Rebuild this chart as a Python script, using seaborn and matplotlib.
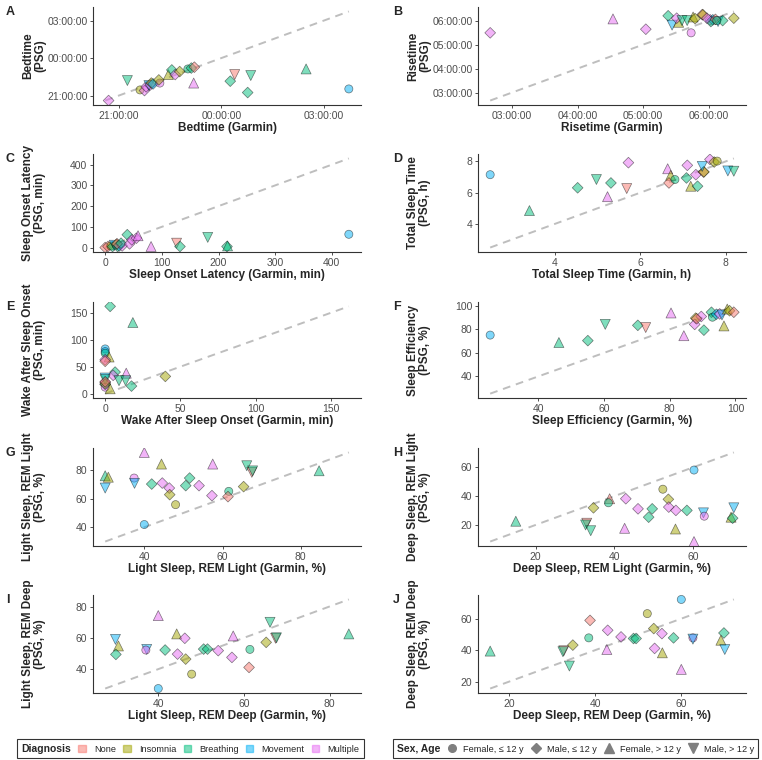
import numpy as np
import pandas as pd
import matplotlib
matplotlib.use('Agg')
import matplotlib.pyplot as plt
import seaborn as sns
from matplotlib.ticker import MultipleLocator, FuncFormatter
from matplotlib.patches import Patch
from matplotlib.lines import Line2D

sns.set_style('white')
plt.rcParams['font.family'] = ['Liberation Sans', 'DejaVu Sans']

# dx codes: N None, I Insomnia, B Breathing, V Movement, M Multiple
# sa codes: c Female <=12, d Male <=12, u Female >12, w Male >12

# A - bedtime (hours, past midnight as 24+)
a_x = [20.70, 21.25, 21.62, 21.75, 21.80, 21.88, 21.92, 21.95, 22.00, 22.20, 22.17, 22.45, 22.55, 22.65, 22.78, 23.02, 23.12, 23.21, 23.19, 24.26, 24.39, 24.77, 24.86, 26.48, 27.73]
a_y = [20.60, 22.20, 21.45, 21.40, 21.70, 21.80, 21.85, 22.00, 21.93, 22.00, 22.25, 22.68, 23.05, 22.68, 22.92, 23.13, 23.20, 23.27, 22.00, 22.15, 22.68, 21.24, 22.60, 23.13, 21.53]
a_dx = ['M', 'B', 'I', 'M', 'M', 'V', 'M', 'I', 'V', 'M', 'I', 'I', 'B', 'M', 'I', 'B', 'B', 'N', 'M', 'B', 'N', 'B', 'B', 'B', 'V']
a_sa = ['d', 'w', 'c', 'd', 'd', 'w', 'd', 'd', 'd', 'c', 'd', 'u', 'd', 'd', 'd', 'c', 'd', 'd', 'u', 'd', 'w', 'd', 'w', 'u', 'c']

# B - risetime (hours)
b_x = [2.67, 4.54, 5.04, 5.73, 5.38, 5.44, 5.54, 5.51, 5.59, 5.67, 5.76, 5.79, 5.90, 5.91, 6.02, 6.06, 6.03, 6.14, 6.21, 6.38, 5.97, 6.10, 6.12]
b_y = [5.49, 6.07, 5.64, 5.49, 6.20, 5.81, 5.93, 6.10, 6.00, 6.00, 6.15, 6.08, 6.25, 6.24, 6.03, 6.03, 5.96, 5.96, 6.00, 6.10, 6.10, 6.05, 6.00]
b_dx = ['M', 'M', 'M', 'M', 'B', 'V', 'I', 'M', 'B', 'B', 'I', 'I', 'N', 'I', 'M', 'V', 'B', 'V', 'B', 'I', 'M', 'N', 'B']
b_sa = ['d', 'u', 'd', 'c', 'd', 'w', 'u', 'd', 'w', 'w', 'u', 'd', 'd', 'd', 'd', 'd', 'd', 'w', 'd', 'd', 'd', 'd', 'c']

# C - sleep onset latency (min)
c_x = [0, 5, 10, 13, 16, 20, 22, 25, 30, 21, 28, 39, 43, 47, 55, 58, 81, 126, 132, 181, 215, 216, 430]
c_y = [0, 5, 8, 5, 11, 16, 5, 8, 8, 18, 21, 62, 18, 37, 45, 57, 5, 21, 5, 49, 5, 8, 64]
c_dx = ['N', 'N', 'I', 'B', 'V', 'I', 'B', 'V', 'M', 'N', 'B', 'B', 'M', 'M', 'M', 'M', 'M', 'N', 'B', 'B', 'B', 'B', 'V']
c_sa = ['d', 'd', 'c', 'd', 'w', 'd', 'd', 'd', 'd', 'd', 'd', 'd', 'd', 'd', 'd', 'u', 'u', 'w', 'd', 'w', 'd', 'u', 'c']

# D - total sleep time (h)
d_x = [2.48, 3.40, 4.53, 4.97, 5.31, 5.23, 5.68, 5.72, 6.64, 6.71, 6.67, 6.81, 7.08, 7.10, 7.18, 7.34, 7.30, 7.48, 7.49, 7.45, 7.63, 7.73, 7.80, 8.05, 8.19]
d_y = [7.15, 4.85, 6.31, 6.84, 6.62, 5.74, 6.26, 7.92, 7.53, 7.11, 6.62, 6.84, 6.94, 7.75, 6.41, 6.41, 7.15, 7.32, 7.33, 7.68, 8.13, 7.96, 8.02, 7.39, 7.37]
d_dx = ['V', 'B', 'B', 'B', 'B', 'M', 'N', 'M', 'M', 'I', 'N', 'B', 'B', 'M', 'I', 'B', 'M', 'N', 'I', 'V', 'M', 'I', 'I', 'V', 'B']
d_sa = ['c', 'u', 'd', 'w', 'd', 'u', 'w', 'd', 'u', 'u', 'd', 'c', 'd', 'd', 'u', 'd', 'd', 'd', 'd', 'w', 'd', 'd', 'c', 'w', 'w']

# E - wake after sleep onset (min)
e_x = [3.3, 18.4, 0, 0, 0, 2.6, 0, 0, 6.6, 5.3, 14, 9.2, 13.6, 17.5, 40, 0, 0, 0, 0, 3.3, 0, 0, 0]
e_y = [162, 132, 83, 78, 75, 68, 63, 60, 40, 34, 38, 24, 24, 14, 32, 29, 21, 17, 12, 9, 26, 18, 22]
e_dx = ['B', 'B', 'V', 'V', 'B', 'I', 'M', 'N', 'B', 'M', 'M', 'B', 'B', 'B', 'I', 'V', 'M', 'V', 'M', 'I', 'B', 'I', 'N']
e_sa = ['d', 'u', 'c', 'c', 'c', 'u', 'd', 'd', 'd', 'd', 'u', 'w', 'w', 'd', 'd', 'w', 'd', 'd', 'c', 'u', 'w', 'd', 'd']

# F - sleep efficiency (%)
f_x = [25.4, 46.3, 55.1, 60.4, 70.3, 72.7, 80.4, 84.3, 87.9, 87.6, 89.6, 90.4, 92.7, 93.0, 94.2, 95.2, 95.9, 96.5, 97.5, 98.2, 99.5, 88.2]
f_y = [75.1, 68.8, 70.4, 84.2, 83.4, 81.5, 93.9, 74.6, 89.5, 84.2, 90.9, 79.3, 94.5, 90.3, 92.8, 93.1, 92.2, 82.9, 97.2, 95.8, 94.5, 89.0]
f_dx = ['V', 'B', 'B', 'B', 'B', 'N', 'M', 'M', 'I', 'M', 'M', 'B', 'B', 'B', 'V', 'M', 'V', 'I', 'I', 'I', 'N', 'N']
f_sa = ['c', 'u', 'd', 'w', 'd', 'w', 'u', 'u', 'd', 'd', 'd', 'd', 'd', 'c', 'd', 'd', 'w', 'u', 'u', 'd', 'd', 'd']

# G - light sleep, REM light (%)
g_x = [30, 30.8, 30, 40, 37.4, 37.5, 41.9, 44.4, 44.6, 46.4, 46.5, 48.0, 40, 50.6, 51.6, 54, 57.5, 57.3, 61.6, 61.4, 65.4, 66.2, 67.5, 67.7, 84.7]
g_y = [76, 75, 67.4, 92.3, 74.4, 70.7, 70.2, 84.2, 70.9, 67.4, 62.8, 55.8, 41.9, 69.1, 74.4, 69.1, 84.2, 62.1, 65.1, 61.4, 68.4, 83, 78.4, 79.4, 79.5]
g_dx = ['B', 'I', 'V', 'M', 'M', 'V', 'B', 'I', 'M', 'M', 'I', 'I', 'V', 'B', 'B', 'M', 'M', 'M', 'B', 'N', 'I', 'B', 'N', 'B', 'B']
g_sa = ['u', 'u', 'w', 'u', 'c', 'w', 'd', 'u', 'd', 'd', 'd', 'c', 'c', 'd', 'd', 'd', 'u', 'd', 'c', 'd', 'd', 'w', 'w', 'w', 'u']

# H - deep sleep, REM light (%)
h_x = [15, 33, 32.7, 34, 34.7, 38.8, 38.5, 42.9, 42.6, 46, 48.7, 49.6, 52.3, 53.7, 53.8, 55.5, 55.6, 58.4, 60.2, 60.2, 62.6, 62.8, 70.3, 69.6, 70]
h_y = [22.6, 21.2, 20, 16, 31.9, 38.2, 35.4, 38.2, 17.7, 31.2, 25.4, 31.2, 44.8, 37.8, 32.4, 17.2, 30.1, 30.1, 58.1, 8.5, 28.4, 26.1, 31.9, 25.4, 24.7]
h_dx = ['B', 'N', 'B', 'B', 'I', 'N', 'B', 'M', 'M', 'M', 'B', 'B', 'I', 'I', 'M', 'I', 'M', 'B', 'V', 'M', 'V', 'M', 'V', 'I', 'B']
h_sa = ['u', 'w', 'w', 'w', 'd', 'u', 'c', 'd', 'u', 'd', 'd', 'd', 'c', 'd', 'd', 'u', 'd', 'd', 'c', 'u', 'w', 'c', 'w', 'u', 'd']

# I - light sleep, REM deep (%)
i_x = [30, 30.7, 30.1, 40, 37.3, 37.1, 40, 41.6, 44.3, 44.5, 46.2, 46.4, 47.8, 50.6, 51.5, 54, 57.5, 57.2, 61.4, 61.2, 65.2, 66.1, 67.4, 67.6, 84.5]
i_y = [59, 54.8, 49.4, 74.2, 52.6, 52.2, 27.6, 52.2, 62.5, 49.6, 59.7, 46.4, 36.8, 52.8, 52.8, 51.8, 61.2, 47.5, 52.6, 41.1, 57.1, 69.9, 59.7, 60.0, 62.5]
i_dx = ['V', 'I', 'B', 'M', 'V', 'M', 'V', 'B', 'I', 'M', 'M', 'I', 'I', 'B', 'B', 'M', 'M', 'M', 'B', 'N', 'I', 'B', 'N', 'B', 'B']
i_sa = ['w', 'u', 'd', 'u', 'w', 'c', 'c', 'd', 'u', 'd', 'd', 'd', 'c', 'd', 'd', 'd', 'u', 'd', 'c', 'd', 'd', 'w', 'w', 'w', 'u']

# J - deep sleep, REM deep (%)
j_x = [15.6, 32.7, 32.5, 34, 34.8, 38.8, 38.5, 42.9, 42.7, 46, 48.9, 49.5, 52.1, 53.6, 53.8, 55.5, 55.6, 58.2, 60, 60, 62.7, 62.7, 69.9, 69.2, 70.1]
j_y = [39.4, 39.6, 39.0, 29.9, 43.2, 58.9, 47.8, 52.6, 40.4, 48.4, 47.4, 47.4, 63.2, 53.7, 41.1, 50.5, 38.3, 47.8, 72.2, 27.8, 47.8, 47, 50.9, 46.3, 40.4]
j_dx = ['B', 'N', 'B', 'B', 'I', 'N', 'B', 'M', 'M', 'M', 'B', 'B', 'I', 'I', 'M', 'M', 'I', 'B', 'V', 'M', 'M', 'V', 'B', 'I', 'V']
j_sa = ['u', 'w', 'w', 'w', 'd', 'd', 'c', 'd', 'u', 'd', 'd', 'd', 'c', 'd', 'd', 'd', 'u', 'd', 'c', 'u', 'c', 'w', 'd', 'u', 'w']

diag_names = {'N': 'None', 'I': 'Insomnia', 'B': 'Breathing', 'V': 'Movement', 'M': 'Multiple'}
diag_order = ['None', 'Insomnia', 'Breathing', 'Movement', 'Multiple']
palette = {'None': '#F8766D', 'Insomnia': '#A3A500', 'Breathing': '#00BF7D',
           'Movement': '#00B0F6', 'Multiple': '#E76BF3'}
sa_names = {'c': 'Female, ≤ 12 y', 'd': 'Male, ≤ 12 y', 'u': 'Female, > 12 y', 'w': 'Male, > 12 y'}
sa_order = ['Female, ≤ 12 y', 'Male, ≤ 12 y', 'Female, > 12 y', 'Male, > 12 y']
markers = dict(zip(sa_order, ['o', 'D', '^', 'v']))
msizes = dict(zip(sa_order, [34, 30, 52, 52]))

panels = [
    ('A', a_x, a_y, a_dx, a_sa, 'Bedtime (Garmin)', 'Bedtime\n(PSG)', 3, True),
    ('B', b_x, b_y, b_dx, b_sa, 'Risetime (Garmin)', 'Risetime\n(PSG)', 1, True),
    ('C', c_x, c_y, c_dx, c_sa, 'Sleep Onset Latency (Garmin, min)', 'Sleep Onset Latency\n(PSG, min)', 100, False),
    ('D', d_x, d_y, d_dx, d_sa, 'Total Sleep Time (Garmin, h)', 'Total Sleep Time\n(PSG, h)', 2, False),
    ('E', e_x, e_y, e_dx, e_sa, 'Wake After Sleep Onset (Garmin, min)', 'Wake After Sleep Onset\n(PSG, min)', 50, False),
    ('F', f_x, f_y, f_dx, f_sa, 'Sleep Efficiency (Garmin, %)', 'Sleep Efficiency\n(PSG, %)', 20, False),
    ('G', g_x, g_y, g_dx, g_sa, 'Light Sleep, REM Light (Garmin, %)', 'Light Sleep, REM Light\n(PSG, %)', 20, False),
    ('H', h_x, h_y, h_dx, h_sa, 'Deep Sleep, REM Light (Garmin, %)', 'Deep Sleep, REM Light\n(PSG, %)', 20, False),
    ('I', i_x, i_y, i_dx, i_sa, 'Light Sleep, REM Deep (Garmin, %)', 'Light Sleep, REM Deep\n(PSG, %)', 20, False),
    ('J', j_x, j_y, j_dx, j_sa, 'Deep Sleep, REM Deep (Garmin, %)', 'Deep Sleep, REM Deep\n(PSG, %)', 20, False),
]

W, H = 762, 760
rows_px = [(7, 105), (154, 252), (302, 398), (448, 546), (595, 693)]
cols_px = [93, 478]
ax_w = 268

fig = plt.figure(figsize=(W / 100, H / 100), dpi=100)
time_fmt = FuncFormatter(lambda v, p: f"{int(round(v)) % 24:02d}:00:00")

for k, (lab, xs, ys, dx, sa, xl, yl, step, is_time) in enumerate(panels):
    top, bot = rows_px[k // 2]
    left = cols_px[k % 2]
    ax = fig.add_axes([left / W, 1 - bot / H, ax_w / W, (bot - top) / H])
    df = pd.DataFrame({'x': xs, 'y': ys,
                       'dx': [diag_names[d] for d in dx],
                       'sa': [sa_names[s] for s in sa]})
    lo = min(df.x.min(), df.y.min())
    hi = max(df.x.max(), df.y.max())
    ax.plot([lo, hi], [lo, hi], color='#BEBEBE', lw=1.4, dashes=(4, 3), zorder=1)
    sns.scatterplot(data=df, x='x', y='y', hue='dx', style='sa', size='sa',
                    hue_order=diag_order, style_order=sa_order, size_order=sa_order,
                    palette=palette, markers=markers, sizes=msizes,
                    alpha=0.5, edgecolor='black', linewidth=0.5,
                    legend=False, ax=ax, zorder=2)
    pad = 0.05 * (hi - lo)
    ax.set_xlim(lo - pad, hi + pad)
    ax.set_ylim(lo - pad, hi + pad)
    ax.xaxis.set_major_locator(MultipleLocator(step))
    ax.yaxis.set_major_locator(MultipleLocator(step))
    if is_time:
        ax.xaxis.set_major_formatter(time_fmt)
        ax.yaxis.set_major_formatter(time_fmt)
    for s in ['top', 'right']:
        ax.spines[s].set_visible(False)
    for s in ['left', 'bottom']:
        ax.spines[s].set_color('#333333')
        ax.spines[s].set_linewidth(0.8)
    ax.tick_params(axis='both', length=2.5, width=0.6, color='#333333', pad=1.5,
                   labelsize=7.5, labelcolor='#4D4D4D', left=True, bottom=True)
    ax.set_xlabel(xl, fontsize=8.5, fontweight='bold', labelpad=1)
    ax.set_ylabel(yl, fontsize=8.5, fontweight='bold', linespacing=1.0)
    ax.yaxis.set_label_coords(-0.175, 0.5)
    fig.text((left - 87 if k % 2 == 0 else left - 85) / W, 1 - (top - 1) / H, lab,
             fontsize=9, fontweight='bold', va='top', ha='left')


def title_left(leg):
    box = leg.get_children()[0]
    title, cols = box.get_children()
    box._children = [cols]
    cols._children = [title] + cols.get_children()


dx_handles = [Patch(facecolor=palette[n], edgecolor=palette[n], alpha=0.5) for n in diag_order]
leg1 = fig.legend(dx_handles, diag_order, title='Diagnosis', loc='center',
                  bbox_to_anchor=(190.5 / W, 1 - 748.5 / H), ncol=5, frameon=True,
                  fancybox=False, edgecolor='black', fontsize=6.6, title_fontsize=7.5,
                  handlelength=0.8, handleheight=0.8, handletextpad=0.9,
                  columnspacing=0.8, borderpad=0.45)
leg1.get_title().set_fontweight('bold')
leg1.get_frame().set_linewidth(0.8)
title_left(leg1)

sa_handles = [Line2D([], [], marker=markers[n], linestyle='', color='#7F7F7F',
                     markersize=5.5 if markers[n] in 'oD' else 6.5) for n in sa_order]
leg2 = fig.legend(sa_handles, sa_order, title='Sex, Age', loc='center',
                  bbox_to_anchor=(575.5 / W, 1 - 748.5 / H), ncol=4, frameon=True,
                  fancybox=False, edgecolor='black', fontsize=6.6, title_fontsize=7.5,
                  handlelength=0.8, handletextpad=0.8, columnspacing=0.9, borderpad=0.45)
leg2.get_title().set_fontweight('bold')
leg2.get_frame().set_linewidth(0.8)
title_left(leg2)

fig.savefig('out.png', dpi=100)
